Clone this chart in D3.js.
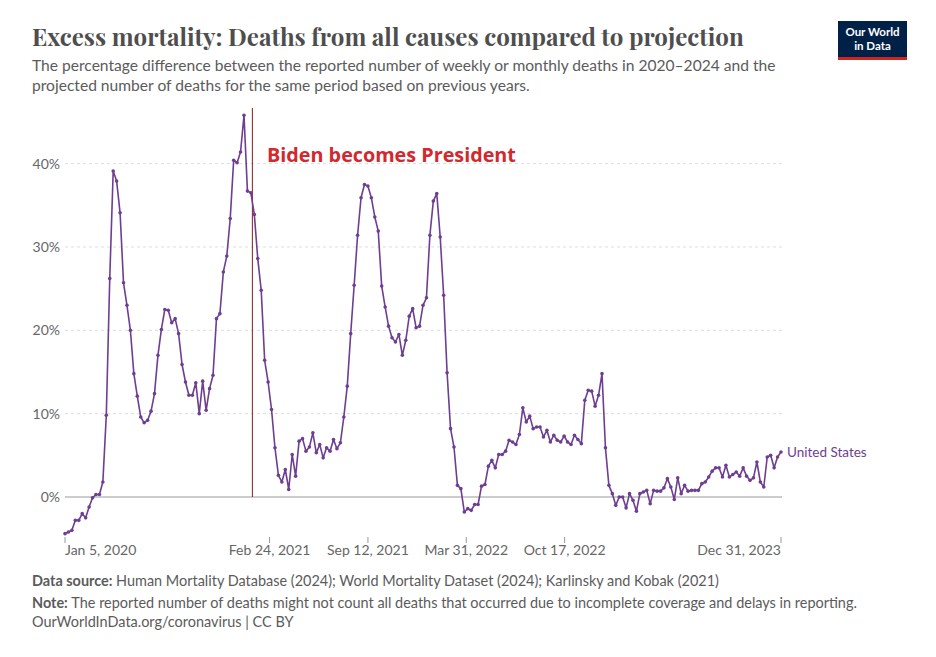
<!DOCTYPE html>
<html><head><meta charset="utf-8">
<script src="https://cdn.jsdelivr.net/npm/d3@7"></script>
<style>
body{margin:0;background:#fff;}
svg{display:block;}
</style></head>
<body>
<svg id="chart" width="936" height="657"></svg>
<script>
// ---- data ----
const startDate = "2020-01-05";
const endDate = "2023-12-31";
const eventDate = "2021-01-20";
const eventLabel = "Biden becomes President";
const seriesName = "United States";
const excessPct = [
-4.4,-4.2,-4.0,-2.8,-2.8,-2.0,-2.5,-1.2,-0.1,0.3,
0.3,1.8,9.8,26.2,39.1,37.9,34.1,25.7,23.0,20.0,
14.8,12.1,9.6,8.9,9.2,10.3,12.4,17.0,20.1,22.5,
22.4,20.9,21.4,19.6,15.9,13.8,12.2,12.2,13.7,10.0,
13.9,10.4,13.0,14.6,21.4,22.0,27.0,28.9,33.4,40.4,
40.1,41.4,45.8,36.7,36.5,33.9,28.6,24.8,16.4,13.8,
10.5,5.9,2.6,1.8,3.3,0.9,5.1,2.5,6.7,7.0,
5.5,6.0,7.7,5.3,6.3,4.7,5.9,5.5,6.9,5.8,
6.5,9.6,13.3,19.6,25.4,31.4,35.9,37.5,37.3,35.9,
33.6,31.9,25.3,22.8,20.5,19.1,18.6,19.5,17.0,18.8,
21.7,22.6,20.3,20.5,23.0,23.9,31.4,35.5,36.4,31.2,
24.2,14.9,8.2,6.0,1.4,1.0,-1.8,-1.4,-1.6,-0.9,
-0.9,1.3,1.5,3.7,4.4,3.5,5.1,5.1,5.5,6.8,
6.6,6.3,7.5,10.7,9.0,9.7,8.2,8.4,8.4,7.2,
8.0,6.6,7.4,6.8,6.6,7.3,6.6,6.3,7.4,6.9,
6.4,11.6,12.8,12.7,10.9,12.2,14.8,5.9,1.4,0.4,
-1.0,0.0,0.0,-1.3,0.4,-0.4,-1.7,0.4,0.6,0.8,
-0.8,0.8,0.7,0.7,1.1,2.2,1.2,-0.3,2.3,0.4,
1.4,0.7,0.8,0.8,0.8,1.6,1.8,2.4,3.1,3.5,
3.5,2.4,3.8,2.4,2.7,3.0,2.5,3.5,2.5,2.0,
2.3,4.2,1.8,1.2,4.8,5.0,3.5,4.8,5.4];
const yTicks = [0,10,20,30,40];
const xTickDates = ["2020-01-05","2021-02-24","2021-09-12","2022-03-31","2022-10-17","2023-12-31"];
const xTickLabels = ["Jan 5, 2020","Feb 24, 2021","Sep 12, 2021","Mar 31, 2022","Oct 17, 2022","Dec 31, 2023"];

// ---- build ----
const parse = d3.utcParse("%Y-%m-%d");
const t0 = parse(startDate);
const data = excessPct.map((v,i)=>({date:d3.utcDay.offset(t0, i*7), value:v}));

const svg = d3.select("#chart");
const x = d3.scaleUtc().domain([t0, parse(endDate)]).range([65, 781]);
const y = d3.scaleLinear().domain([0, 40]).range([497, 163.6]);

const sans = "Lato, 'Noto Sans', sans-serif";
const grey = "#5b5b5b";

function fit(sel, w){
  const n = sel.node(); const cur = n.getComputedTextLength();
  const fs = parseFloat(sel.attr("font-size"));
  sel.attr("font-size", (fs*w/cur).toFixed(2));
}

// Title
svg.append("text").attr("x",32).attr("y",46)
  .attr("font-family","'Playfair Display','Liberation Serif','DejaVu Serif',serif")
  .attr("font-weight","bold").attr("font-size",25).attr("fill","#4e4e4e")
  .text("Excess mortality: Deaths from all causes compared to projection")
  .call(s=>fit(s,712));
const sub1 = svg.append("text").attr("x",32).attr("y",71).attr("font-family",sans)
  .attr("font-size",15).attr("fill",grey)
  .text("The percentage difference between the reported number of weekly or monthly deaths in 2020–2024 and the");
fit(sub1,744);
const fsSub = sub1.attr("font-size");
svg.append("text").attr("x",32).attr("y",91).attr("font-family",sans)
  .attr("font-size",fsSub).attr("fill",grey)
  .text("projected number of deaths for the same period based on previous years.");

// Logo
const logo = svg.append("g");
logo.append("rect").attr("x",838).attr("y",21).attr("width",69).attr("height",39).attr("fill","#002147");
logo.append("rect").attr("x",838).attr("y",57).attr("width",69).attr("height",3).attr("fill","#ce261e");
logo.append("text").attr("x",872.5).attr("y",36).attr("text-anchor","middle").attr("font-family",sans)
  .attr("font-weight","bold").attr("font-size",11.5).attr("fill","#fff").text("Our World");
logo.append("text").attr("x",872.5).attr("y",50).attr("text-anchor","middle").attr("font-family",sans)
  .attr("font-weight","bold").attr("font-size",11.5).attr("fill","#fff").text("in Data");

// Grid
const grid = svg.append("g");
grid.selectAll("line.g").data(yTicks.filter(d=>d!==0)).join("line")
  .attr("x1",65).attr("x2",782).attr("y1",d=>y(d)).attr("y2",d=>y(d))
  .attr("stroke","#dddddd").attr("stroke-dasharray","3,3");
grid.append("line").attr("x1",65).attr("x2",782).attr("y1",y(0)).attr("y2",y(0))
  .attr("stroke","#999").attr("stroke-width",1);
svg.append("g").selectAll("text").data(yTicks).join("text")
  .attr("x",60).attr("y",d=>y(d)).attr("dy","0.35em").attr("text-anchor","end")
  .attr("font-family",sans).attr("font-size",14).attr("fill","#666")
  .text(d=>d+"%");

// X axis ticks
const xt = svg.append("g");
const tickD = xTickDates.map(parse);
xt.selectAll("line").data(tickD).join("line")
  .attr("x1",d=>x(d)).attr("x2",d=>x(d)).attr("y1",537).attr("y2",543)
  .attr("stroke","#999");
xt.selectAll("text").data(tickD).join("text")
  .attr("x",d=>x(d)).attr("y",555)
  .attr("text-anchor",(d,i)=> i===0?"start": i===tickD.length-1?"end":"middle")
  .attr("font-family",sans).attr("font-size",14).attr("fill","#666")
  .text((d,i)=>xTickLabels[i]);

// Event line
const ex = x(parse(eventDate));
svg.append("line").attr("x1",ex).attr("x2",ex).attr("y1",108).attr("y2",y(0))
  .attr("stroke","#8b1a1a").attr("stroke-width",1);

// Series line
const line = d3.line().x(d=>x(d.date)).y(d=>y(d.value));
svg.append("path").datum(data).attr("d",line).attr("fill","none")
  .attr("stroke","#6d3e91").attr("stroke-width",1.6).attr("stroke-linejoin","round");
svg.append("g").selectAll("circle").data(data).join("circle")
  .attr("cx",d=>x(d.date)).attr("cy",d=>y(d.value)).attr("r",1.8).attr("fill","#6d3e91");

const last = data[data.length-1];
svg.append("text").attr("x",x(last.date)+6).attr("y",y(last.value)).attr("dy","0.35em")
  .attr("font-family",sans).attr("font-size",13.5).attr("fill","#6d3e91").text(seriesName);

// Annotation
const ann = svg.append("text").attr("x",267).attr("y",162)
  .attr("font-family","'Open Sans','Noto Sans',sans-serif").attr("font-weight","bold")
  .attr("font-size",19).attr("fill","#d2282e").text(eventLabel);
fit(ann,249);

// Footer
const f1 = svg.append("text").attr("x",32).attr("y",586).attr("font-family",sans).attr("font-size",14).attr("fill",grey);
f1.append("tspan").attr("font-weight","bold").text("Data source: ");
f1.append("tspan").text("Human Mortality Database (2024); World Mortality Dataset (2024); Karlinsky and Kobak (2021)");
const f2 = svg.append("text").attr("x",32).attr("y",608).attr("font-family",sans).attr("font-size",14).attr("fill",grey);
f2.append("tspan").attr("font-weight","bold").text("Note: ");
f2.append("tspan").text("The reported number of deaths might not count all deaths that occurred due to incomplete coverage and delays in reporting.");
fit(f2,825);
f1.attr("font-size",f2.attr("font-size"));
svg.append("text").attr("x",32).attr("y",627).attr("font-family",sans).attr("font-size",f2.attr("font-size")).attr("fill",grey)
  .text("OurWorldInData.org/coronavirus | CC BY");
</script>
</body></html>
